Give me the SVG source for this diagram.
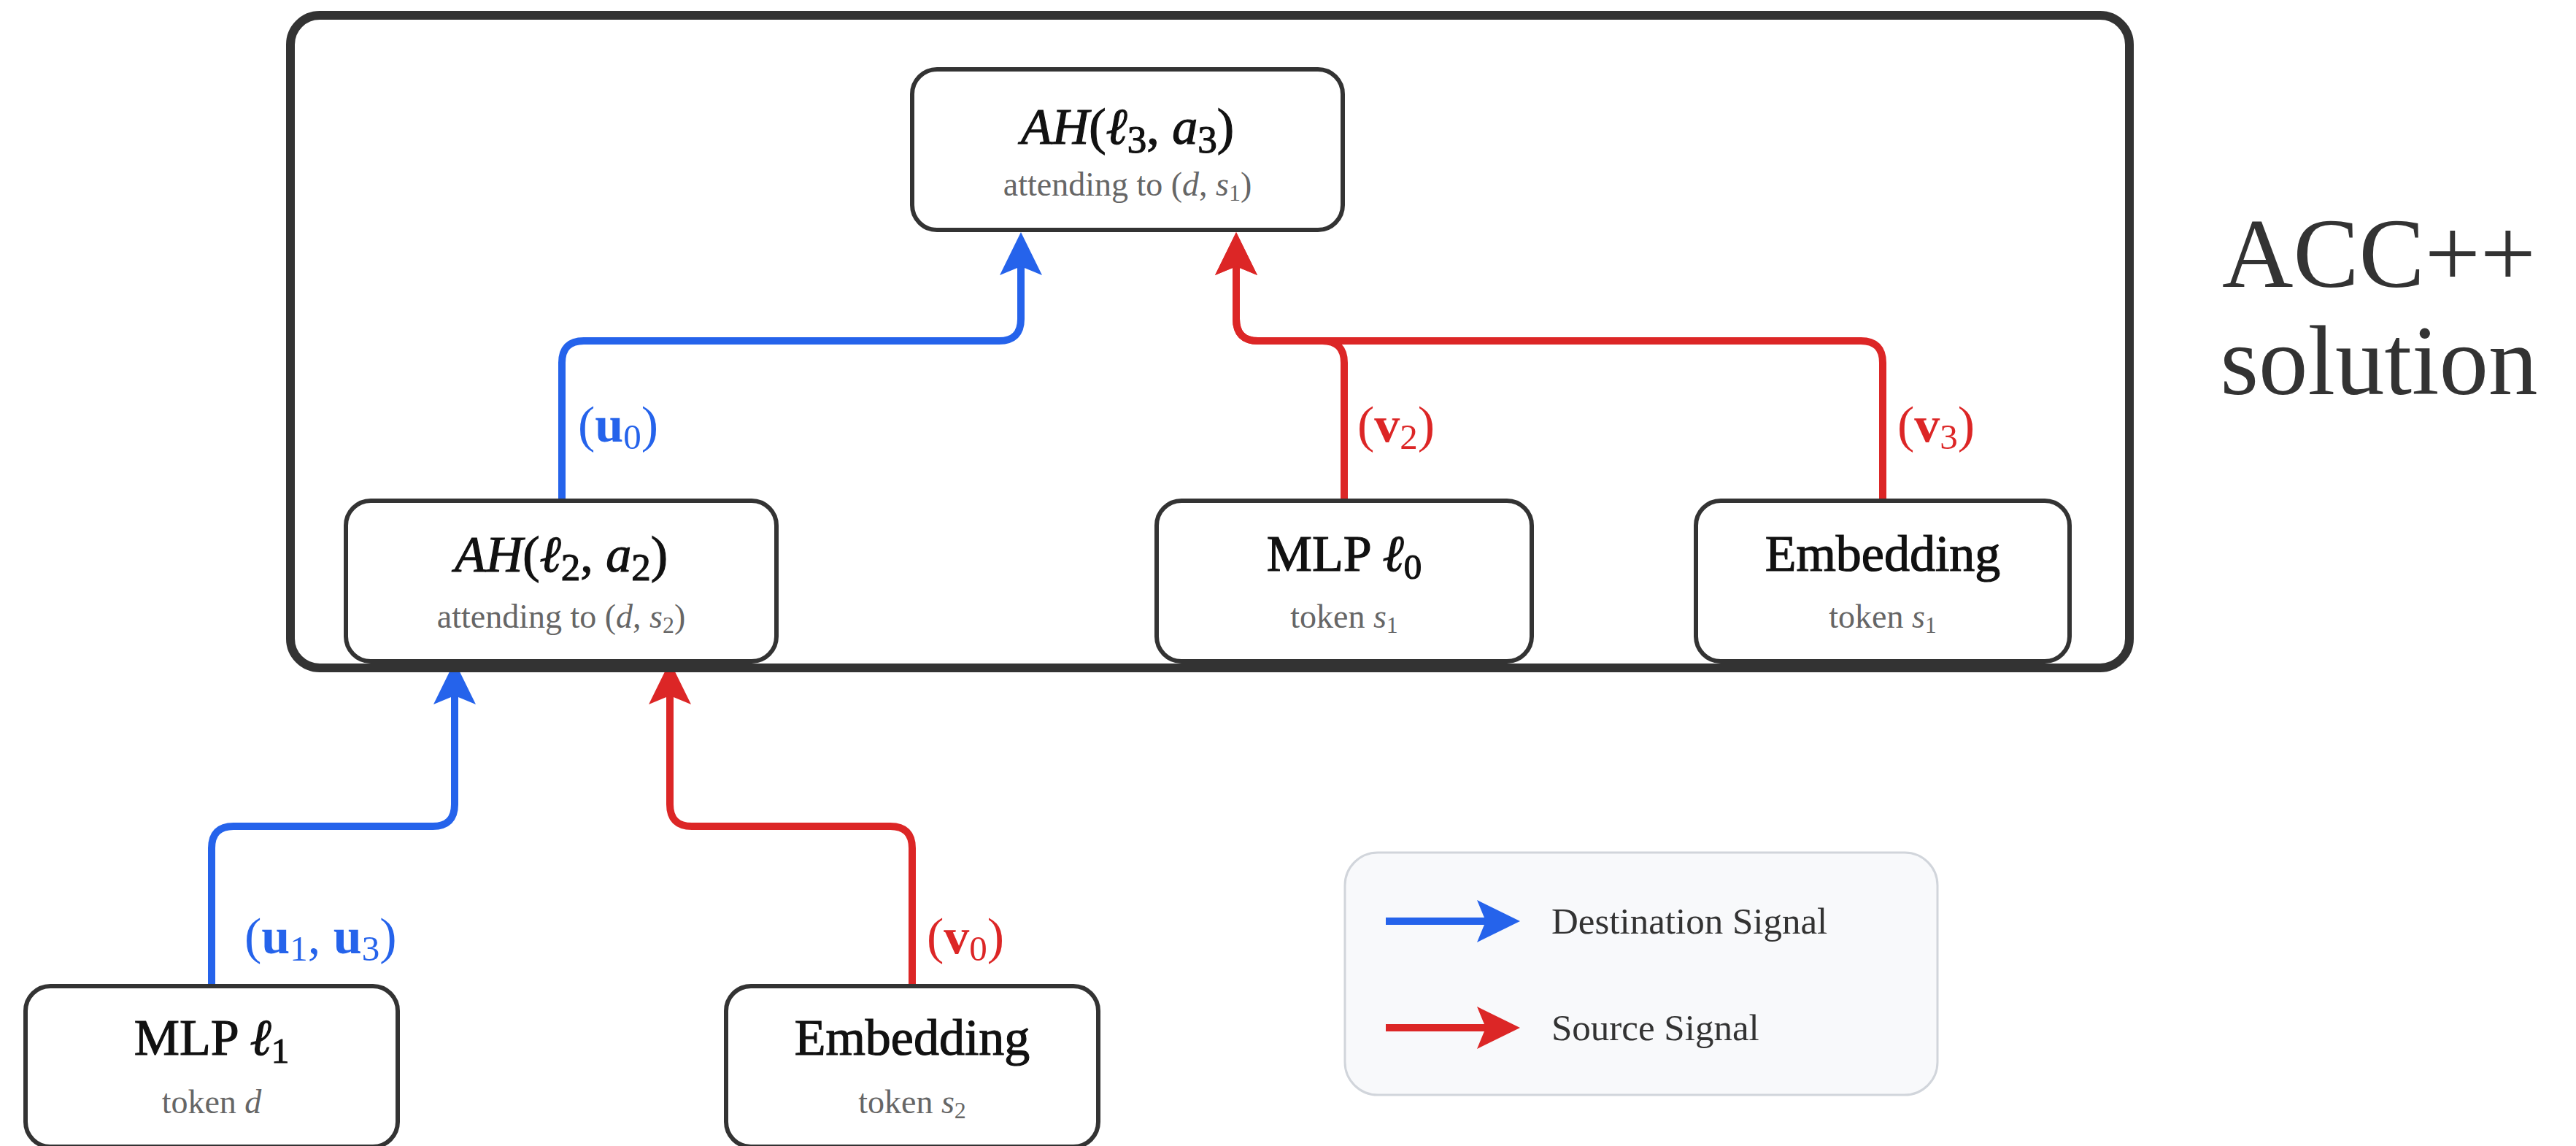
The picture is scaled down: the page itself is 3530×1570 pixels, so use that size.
<svg xmlns="http://www.w3.org/2000/svg" width="3530" height="1570" viewBox="0 0 3530 1570">
  <style>
    .box { fill: #ffffff; stroke: #333333; stroke-width: 6; }
    .frame { fill: none; stroke: #333333; stroke-width: 12; }
    .ttl { font-family: "Liberation Serif", "DejaVu Serif", serif; font-size: 70px; fill: #111111; stroke: #111111; stroke-width: 1.2; text-anchor: middle; }
    .sub { font-family: "Liberation Serif", "DejaVu Serif", serif; font-size: 46px; fill: #666666; text-anchor: middle; }
    .it { font-style: italic; }
    .dst { fill: none; stroke: #2563EB; stroke-width: 10; marker-end: url(#headBlue); }
    .src { fill: none; stroke: #DC2626; stroke-width: 10; marker-end: url(#headRed); }
    .lbl { font-family: "Liberation Serif", "DejaVu Serif", serif; font-size: 70px; }
    .lbl .b { font-weight: bold; }
    .lblBlue { fill: #2563EB; }
    .lblRed { fill: #DC2626; }
    .legendText { font-family: "Liberation Serif", "DejaVu Serif", serif; font-size: 51px; fill: #333333; }
    .heading { font-family: "Liberation Serif", "DejaVu Serif", serif; font-size: 135px; fill: #333333; text-anchor: middle; }
  </style>
  <defs>
    <marker id="headBlue" markerUnits="userSpaceOnUse" viewBox="0 0 59 58" refX="14" refY="29" markerWidth="59" markerHeight="58" orient="auto">
      <path d="M0,0 L59,29 L0,58 L12,29 Z" fill="#2563EB"/>
    </marker>
    <marker id="headRed" markerUnits="userSpaceOnUse" viewBox="0 0 59 58" refX="14" refY="29" markerWidth="59" markerHeight="58" orient="auto">
      <path d="M0,0 L59,29 L0,58 L12,29 Z" fill="#DC2626"/>
    </marker>
  </defs>

  <rect width="3530" height="1570" fill="#ffffff"/>

  <!-- connectors -->
  <g id="connectors">
    <path class="dst" d="M770,686 V497 Q770,467 800,467 H1369 Q1399,467 1399,437 V363"/>
    <path class="src" d="M1842,686 V497 Q1842,467 1812,467 H1724 Q1694,467 1694,437 V363"/>
    <path class="src" d="M2580,686 V497 Q2580,467 2550,467 H1724 Q1694,467 1694,437 V363"/>
    <path class="dst" d="M290,1351 V1162 Q290,1132 320,1132 H593 Q623,1132 623,1102 V951"/>
    <path class="src" d="M1250,1351 V1162 Q1250,1132 1220,1132 H948 Q918,1132 918,1102 V951"/>

    <text class="lbl lblBlue" x="792" y="605">(<tspan class="b">u</tspan><tspan font-size="49" dy="10">0</tspan><tspan dy="-10">)</tspan></text>
    <text class="lbl lblRed" x="1860" y="605">(<tspan class="b">v</tspan><tspan font-size="49" dy="10">2</tspan><tspan dy="-10">)</tspan></text>
    <text class="lbl lblRed" x="2600" y="605">(<tspan class="b">v</tspan><tspan font-size="49" dy="10">3</tspan><tspan dy="-10">)</tspan></text>
    <text class="lbl lblBlue" x="335" y="1306">(<tspan class="b">u</tspan><tspan font-size="49" dy="10">1</tspan><tspan dy="-10">, </tspan><tspan class="b">u</tspan><tspan font-size="49" dy="10">3</tspan><tspan dy="-10">)</tspan></text>
    <text class="lbl lblRed" x="1270" y="1306">(<tspan class="b">v</tspan><tspan font-size="49" dy="10">0</tspan><tspan dy="-10">)</tspan></text>
  </g>

  <!-- attention head, layer 3 -->
  <g id="ah3">
    <rect class="box" x="1250" y="95" width="590" height="220" rx="34"/>
    <text class="ttl" x="1545" y="197" font-size="76"><tspan class="it">AH</tspan>(<tspan class="it">ℓ</tspan><tspan font-size="53" dy="12">3</tspan><tspan dy="-12">, </tspan><tspan class="it">a</tspan><tspan font-size="53" dy="12">3</tspan><tspan dy="-12">)</tspan></text>
    <text class="sub" x="1545" y="268">attending to (<tspan class="it">d</tspan>, <tspan class="it">s</tspan><tspan font-size="32" dy="7">1</tspan><tspan dy="-7">)</tspan></text>
  </g>

  <!-- attention head, layer 2 -->
  <g id="ah2">
    <rect class="box" x="474" y="686" width="590" height="220" rx="34"/>
    <text class="ttl" x="769" y="783" font-size="76"><tspan class="it">AH</tspan>(<tspan class="it">ℓ</tspan><tspan font-size="53" dy="12">2</tspan><tspan dy="-12">, </tspan><tspan class="it">a</tspan><tspan font-size="53" dy="12">2</tspan><tspan dy="-12">)</tspan></text>
    <text class="sub" x="769" y="860">attending to (<tspan class="it">d</tspan>, <tspan class="it">s</tspan><tspan font-size="32" dy="7">2</tspan><tspan dy="-7">)</tspan></text>
  </g>

  <!-- MLP, layer 0 -->
  <g id="mlp0">
    <rect class="box" x="1585" y="686" width="514" height="220" rx="34"/>
    <text class="ttl" x="1842" y="782">MLP <tspan class="it">ℓ</tspan><tspan font-size="49" dy="11">0</tspan></text>
    <text class="sub" x="1842" y="860">token <tspan class="it">s</tspan><tspan font-size="32" dy="7">1</tspan></text>
  </g>

  <!-- embedding of token s1 -->
  <g id="emb1">
    <rect class="box" x="2324" y="686" width="512" height="220" rx="34"/>
    <text class="ttl" x="2580" y="782">Embedding</text>
    <text class="sub" x="2580" y="860">token <tspan class="it">s</tspan><tspan font-size="32" dy="7">1</tspan></text>
  </g>

  <!-- MLP, layer 1 -->
  <g id="mlp1">
    <rect class="box" x="35" y="1351" width="510" height="220" rx="34"/>
    <text class="ttl" x="290" y="1445">MLP <tspan class="it">ℓ</tspan><tspan font-size="49" dy="11">1</tspan></text>
    <text class="sub" x="290" y="1525">token <tspan class="it">d</tspan></text>
  </g>

  <!-- embedding of token s2 -->
  <g id="emb2">
    <rect class="box" x="995" y="1351" width="510" height="220" rx="34"/>
    <text class="ttl" x="1250" y="1445">Embedding</text>
    <text class="sub" x="1250" y="1525">token <tspan class="it">s</tspan><tspan font-size="32" dy="7">2</tspan></text>
  </g>

  <!-- circuit frame -->
  <g id="frame">
    <rect class="frame" x="398" y="21" width="2520" height="894" rx="40"/>
  </g>

  <!-- frame heading -->
  <g id="heading">
    <text class="heading" x="3260" y="393">ACC++</text>
    <text class="heading" x="3260" y="540">solution</text>
  </g>

  <!-- legend -->
  <g id="legend">
    <rect x="1843" y="1168" width="812" height="332" rx="45" fill="#F8F9FB" stroke="#D1D5DB" stroke-width="3"/>
    <path class="dst" d="M1899,1262 H2038"/>
    <text class="legendText" x="2126" y="1279">Destination Signal</text>
    <path class="src" d="M1899,1408 H2038"/>
    <text class="legendText" x="2126" y="1425">Source Signal</text>
  </g>
</svg>
